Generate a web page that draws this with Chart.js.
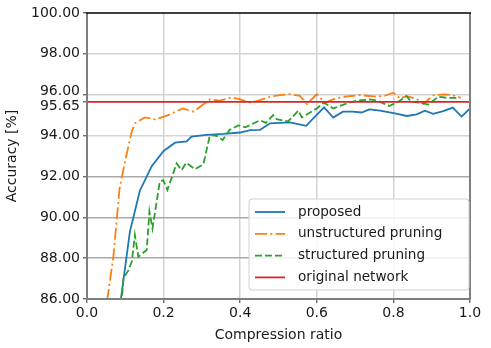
<!DOCTYPE html>
<html lang="en">
<head>
    <meta charset="UTF-8">
    <title>Accuracy vs compression ratio</title>
    <style>
        html, body {
            margin: 0;
            padding: 0;
            background: #fff;
            overflow: hidden;
        }
    </style>
    <script src="https://cdn.jsdelivr.net/npm/chart.js"></script>
</head>
<body>
    <canvas id="accuracy-chart" width="491" height="348"></canvas>

    <script>
        // compression ratio / accuracy readings for each method
        const proposedX = [0.08, 0.112, 0.138, 0.169, 0.2, 0.23, 0.26, 0.273, 0.312, 0.356, 0.4, 0.426, 0.452, 0.478, 0.53, 0.572, 0.619, 0.643, 0.668, 0.694, 0.717, 0.737, 0.765, 0.804, 0.835, 0.861, 0.882, 0.904, 0.93, 0.955, 0.978, 1.0];
        const proposedY = [84.8, 89.3, 91.3, 92.5, 93.25, 93.65, 93.72, 93.95, 94.03, 94.08, 94.15, 94.27, 94.28, 94.6, 94.65, 94.48, 95.38, 94.88, 95.17, 95.17, 95.13, 95.28, 95.22, 95.09, 94.96, 95.04, 95.22, 95.06, 95.2, 95.37, 94.93, 95.33];

        const unstructuredX = [0.045, 0.069, 0.085, 0.1, 0.117, 0.125, 0.151, 0.178, 0.212, 0.25, 0.278, 0.321, 0.347, 0.378, 0.4, 0.426, 0.452, 0.478, 0.504, 0.53, 0.556, 0.574, 0.6, 0.621, 0.643, 0.669, 0.713, 0.756, 0.778, 0.8, 0.817, 0.835, 0.861, 0.878, 0.904, 0.935, 0.955, 0.976];
        const unstructuredY = [84.9, 88.1, 91.4, 92.8, 94.2, 94.6, 94.89, 94.79, 95.0, 95.33, 95.17, 95.77, 95.71, 95.87, 95.77, 95.61, 95.74, 95.9, 95.98, 96.03, 95.94, 95.55, 96.02, 95.61, 95.77, 95.9, 95.98, 95.9, 95.95, 96.1, 95.82, 95.93, 95.79, 95.55, 95.97, 96.02, 95.97, 95.85];

        const structuredX = [0.088, 0.095, 0.108, 0.117, 0.125, 0.134, 0.156, 0.163, 0.171, 0.19, 0.199, 0.21, 0.234, 0.247, 0.259, 0.282, 0.304, 0.321, 0.339, 0.354, 0.372, 0.395, 0.413, 0.452, 0.467, 0.486, 0.495, 0.525, 0.552, 0.561, 0.6, 0.619, 0.643, 0.678, 0.704, 0.739, 0.757, 0.789, 0.813, 0.834, 0.846, 0.869, 0.891, 0.917, 0.939, 0.969];
        const structuredY = [85.2, 87.0, 87.4, 87.83, 89.13, 88.07, 88.4, 90.28, 89.45, 91.75, 91.82, 91.34, 92.64, 92.31, 92.67, 92.35, 92.6, 94.03, 93.98, 93.78, 94.27, 94.5, 94.4, 94.75, 94.62, 95.0, 94.8, 94.69, 95.22, 94.89, 95.33, 95.61, 95.33, 95.57, 95.71, 95.77, 95.71, 95.45, 95.66, 95.94, 95.66, 95.61, 95.52, 95.9, 95.85, 95.84];

        const originalAccuracy = 95.65;
        const originalX = [0, 1];

        const yTicks = [86, 88, 90, 92, 94, 95.65, 96, 98, 100];
        const xTicks = [0, 0.2, 0.4, 0.6, 0.8, 1.0];

        const seriesNames = ['proposed', 'unstructured pruning', 'structured pruning', 'original network'];

        const toPoints = (xs, ys) => xs.map((x, i) => ({ x: x, y: ys[i] }));

        const FONT = "'DejaVu Sans', 'Liberation Sans', sans-serif";
        const colors = ['#1f77b4', '#ff7f0e', '#2ca02c', '#d62728'];
        const dashes = [[], [12, 3.3, 2, 3.3], [7, 3], []];

        // spines, y tick labels and the legend box are drawn by hand
        const framePlugin = {
            id: 'frame',
            afterDraw(chart) {
                const c = chart.ctx;
                const a = chart.chartArea;
                const yScale = chart.scales.y;

                c.save();
                c.strokeStyle = '#7f7f7f';
                c.lineWidth = 2;
                c.beginPath();
                c.moveTo(a.left, a.top);
                c.lineTo(a.left, a.bottom);
                c.lineTo(a.right, a.bottom);
                c.lineTo(a.right, a.top);
                c.stroke();
                c.strokeStyle = '#000';
                c.lineWidth = 1.3;
                c.beginPath();
                c.moveTo(a.left - 1, a.top);
                c.lineTo(a.right + 1, a.top);
                c.stroke();

                // y tick labels (96.00 and 95.65 pushed apart a little)
                c.fillStyle = '#1a1a1a';
                c.font = '14px ' + FONT;
                c.textAlign = 'right';
                c.textBaseline = 'middle';
                yTicks.forEach(v => {
                    let dy = 0;
                    if (v === 96) dy = -3;
                    if (v === originalAccuracy) dy = 4.5;
                    c.fillText(v.toFixed(2), a.left - 7, yScale.getPixelForValue(v) + dy);
                });

                // legend
                const lx = 249, ly = 199, lw = 220, lh = 91;
                c.beginPath();
                c.roundRect(lx, ly, lw, lh, 3);
                c.fillStyle = 'rgba(255,255,255,0.85)';
                c.fill();
                c.strokeStyle = '#d0d0d0';
                c.lineWidth = 1;
                c.stroke();

                c.textAlign = 'left';
                c.font = '13.6px ' + FONT;
                seriesNames.forEach((name, i) => {
                    const yy = ly + 13 + i * 21.8;
                    c.strokeStyle = colors[i];
                    c.lineWidth = 1.8;
                    c.setLineDash(dashes[i]);
                    c.beginPath();
                    c.moveTo(lx + 6, yy);
                    c.lineTo(lx + 36, yy);
                    c.stroke();
                    c.setLineDash([]);
                    c.fillStyle = '#1a1a1a';
                    c.fillText(name, lx + 49, yy);
                });
                c.restore();
            }
        };

        const lineSet = (label, data, i, order) => ({
            label: label,
            data: data,
            borderColor: colors[i],
            borderWidth: 1.8,
            borderDash: dashes[i],
            pointRadius: 0,
            fill: false,
            tension: 0,
            clip: 0,
            order: order
        });

        const chart = new Chart(document.getElementById('accuracy-chart'), {
            type: 'line',
            data: {
                datasets: [
                    lineSet(seriesNames[0], toPoints(proposedX, proposedY), 0, 4),
                    lineSet(seriesNames[1], toPoints(unstructuredX, unstructuredY), 1, 3),
                    lineSet(seriesNames[2], toPoints(structuredX, structuredY), 2, 2),
                    lineSet(seriesNames[3], originalX.map(x => ({ x: x, y: originalAccuracy })), 3, 1)
                ]
            },
            options: {
                responsive: false,
                animation: false,
                layout: { padding: { top: 13, right: 21, left: 0, bottom: 0 } },
                plugins: {
                    legend: { display: false },
                    tooltip: { enabled: false }
                },
                scales: {
                    x: {
                        type: 'linear',
                        min: 0,
                        max: 1,
                        afterBuildTicks: s => { s.ticks = xTicks.map(v => ({ value: v })); },
                        afterFit: s => { s.height = 49; },
                        border: { display: false },
                        grid: {
                            color: ctx => (ctx.tick && ctx.tick.value > 0.01 && ctx.tick.value < 0.99) ? '#d3d3d3' : 'rgba(0,0,0,0)',
                            lineWidth: 1.5,
                            tickLength: 4,
                            tickColor: '#555',
                            tickWidth: 1.2
                        },
                        ticks: {
                            color: '#1a1a1a',
                            font: { family: FONT, size: 14 },
                            padding: 2,
                            maxRotation: 0,
                            callback: v => Number(v).toFixed(1)
                        },
                        title: {
                            display: true,
                            text: 'Compression ratio',
                            color: '#1a1a1a',
                            font: { family: FONT, size: 14 },
                            padding: { top: 0, bottom: 4 }
                        }
                    },
                    y: {
                        type: 'linear',
                        min: 86,
                        max: 100,
                        afterBuildTicks: s => { s.ticks = yTicks.map(v => ({ value: v })); },
                        afterFit: s => { s.width = 87; },
                        border: { display: false },
                        grid: {
                            color: ctx => {
                                const v = ctx.tick ? ctx.tick.value : 0;
                                if (v === 86 || v === 100 || v === originalAccuracy) return 'rgba(0,0,0,0)';
                                return v < 93 ? '#a9a9a9' : '#d3d3d3';
                            },
                            lineWidth: 1.5,
                            tickLength: 4,
                            tickColor: '#555',
                            tickWidth: 1.2
                        },
                        ticks: { display: false, autoSkip: false },
                        title: {
                            display: true,
                            text: 'Accuracy [%]',
                            color: '#1a1a1a',
                            font: { family: FONT, size: 14 },
                            padding: { top: 4, bottom: 0 }
                        }
                    }
                }
            },
            plugins: [framePlugin]
        });
    </script>
</body>
</html>
